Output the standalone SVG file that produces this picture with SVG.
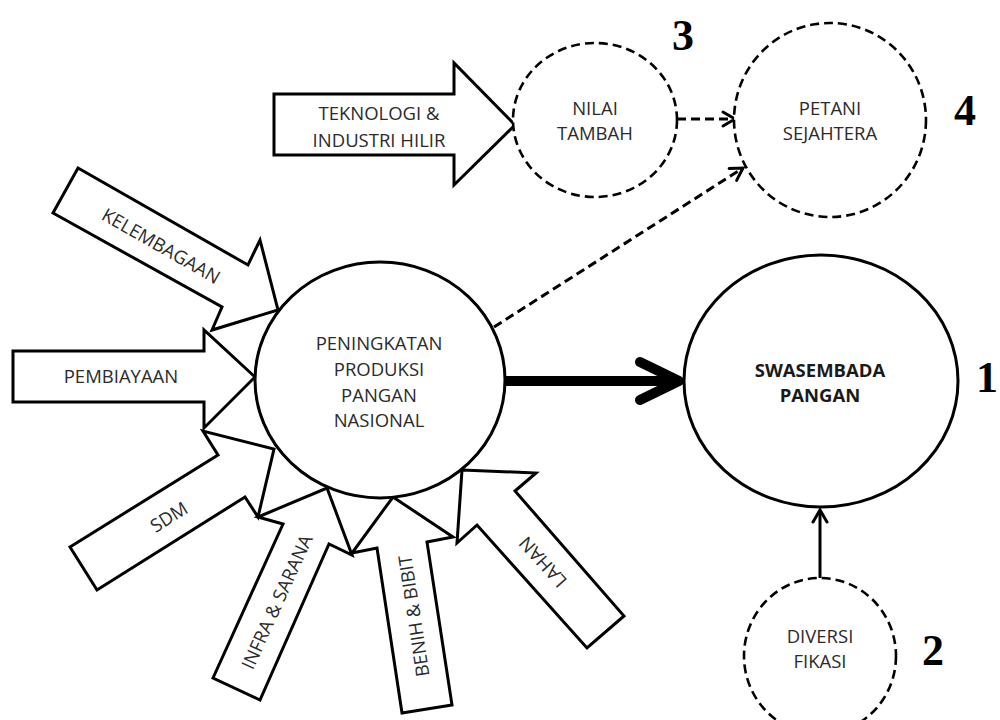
<svg xmlns="http://www.w3.org/2000/svg" width="1000" height="720" viewBox="0 0 1000 720">
<style>
.bg{fill:#fff}
.blk{fill:#fff;stroke:#000;stroke-width:3;stroke-linejoin:miter}
.solid{fill:#fff;stroke:#000;stroke-width:3}
.dash{fill:#fff;stroke:#000;stroke-width:2.6;stroke-dasharray:9 5}
.t{font-family:"Open Sans","Noto Sans",sans-serif;font-size:18.5px;fill:#2b2b2b;text-anchor:middle}
.b{font-weight:bold;fill:#1a1a1a}
.num{font-family:"Liberation Serif","DejaVu Serif",serif;font-weight:bold;font-size:44px;fill:#000}
.dl{fill:none;stroke:#000;stroke-width:3;stroke-dasharray:9 5}
</style>
<defs>
<marker id="open" viewBox="0 0 20 20" refX="17" refY="10" markerWidth="20" markerHeight="20" markerUnits="userSpaceOnUse" orient="auto" overflow="visible">
<path d="M5,3 L17,10 L5,17" fill="none" stroke="#000" stroke-width="3" stroke-linecap="round"/>
</marker>
<marker id="thick" viewBox="0 0 50 50" refX="42" refY="25" markerWidth="50" markerHeight="50" markerUnits="userSpaceOnUse" orient="auto" overflow="visible">
<path d="M3,6 L42,25 L3,44" fill="none" stroke="#000" stroke-width="10" stroke-linecap="round" stroke-linejoin="round"/>
</marker>
</defs>
<rect class="bg" x="0" y="0" width="1000" height="720"/>

<g id="connectors">
<line x1="505" y1="381" x2="679" y2="381" stroke="#000" stroke-width="10" marker-end="url(#thick)"/>
<line class="dl" x1="677" y1="119" x2="735" y2="119" marker-end="url(#open)"/>
<line class="dl" x1="494" y1="327" x2="743" y2="168" marker-end="url(#open)"/>
<line x1="820" y1="578" x2="820" y2="510" stroke="#000" stroke-width="3" marker-end="url(#open)"/>
</g>

<g id="kelembagaan">
<polygon class="blk" points="78,168 248,265 260,240 278,310 212,330 222,307 53,213"/>
<text class="t" transform="translate(161,246) rotate(29.8)" dy="0.35em">KELEMBAGAAN</text>
</g>
<g id="pembiayaan">
<polygon class="blk" points="13,351 204,351 204,330 255,377 204,428 204,402 13,402"/>
<text class="t" x="121" y="383">PEMBIAYAAN</text>
</g>
<g id="sdm">
<polygon class="blk" points="70,547 218,455 203,431 274,449 258,517 245,497 97,590"/>
<text class="t" transform="translate(169,517) rotate(-32)" dy="0.35em">SDM</text>
</g>
<g id="infra">
<polygon class="blk" points="213,678 283,524 258,517 327,488 352,555 329,544 260,700"/>
<text class="t" transform="translate(277,602) rotate(-65.5)" dy="0.35em">INFRA &amp; SARANA</text>
</g>
<g id="benih">
<polygon class="blk" points="402,713 377,548 352,553 393,497 453,537 427,542 452,705"/>
<text class="t" transform="translate(414,616) rotate(-98.6)" dy="0.35em">BENIH &amp; BIBIT</text>
</g>
<g id="lahan">
<polygon class="blk" points="462,470 536,473 515,491 624,616 587,648 477,525 457,543"/>
<text class="t" transform="translate(543,562) rotate(-132)" dy="0.35em">LAHAN</text>
</g>

<g id="peningkatan">
<ellipse class="solid" cx="380" cy="380" rx="125" ry="118"/>
<text class="t" x="379" y="350">PENINGKATAN</text>
<text class="t" x="379" y="376">PRODUKSI</text>
<text class="t" x="379" y="402">PANGAN</text>
<text class="t" x="379" y="427">NASIONAL</text>
</g>

<g id="teknologi">
<polygon class="blk" points="274,94 454,94 454,63 515,125 454,185 454,155 274,155"/>
<text class="t" x="379" y="120">TEKNOLOGI &amp;</text>
<text class="t" x="379" y="147">INDUSTRI HILIR</text>
</g>

<g id="nilai-tambah">
<ellipse class="dash" cx="595" cy="120" rx="82" ry="77"/>
<text class="t" x="595" y="115">NILAI</text>
<text class="t" x="595" y="140">TAMBAH</text>
<text class="num" x="683" y="50" text-anchor="middle">3</text>
</g>

<g id="petani-sejahtera">
<ellipse class="dash" cx="830" cy="120" rx="96" ry="97"/>
<text class="t" x="830" y="115">PETANI</text>
<text class="t" x="830" y="140">SEJAHTERA</text>
<text class="num" x="965" y="125" text-anchor="middle">4</text>
</g>

<g id="swasembada">
<ellipse class="solid" cx="821" cy="381" rx="137" ry="126"/>
<text class="t b" x="820" y="377">SWASEMBADA</text>
<text class="t b" x="820" y="402">PANGAN</text>
<text class="num" x="976" y="392">1</text>
</g>

<g id="diversifikasi">
<ellipse class="dash" cx="820" cy="656" rx="76" ry="78"/>
<text class="t" x="820" y="643">DIVERSI</text>
<text class="t" x="820" y="668">FIKASI</text>
<text class="num" x="933" y="665" text-anchor="middle">2</text>
</g>
</svg>
